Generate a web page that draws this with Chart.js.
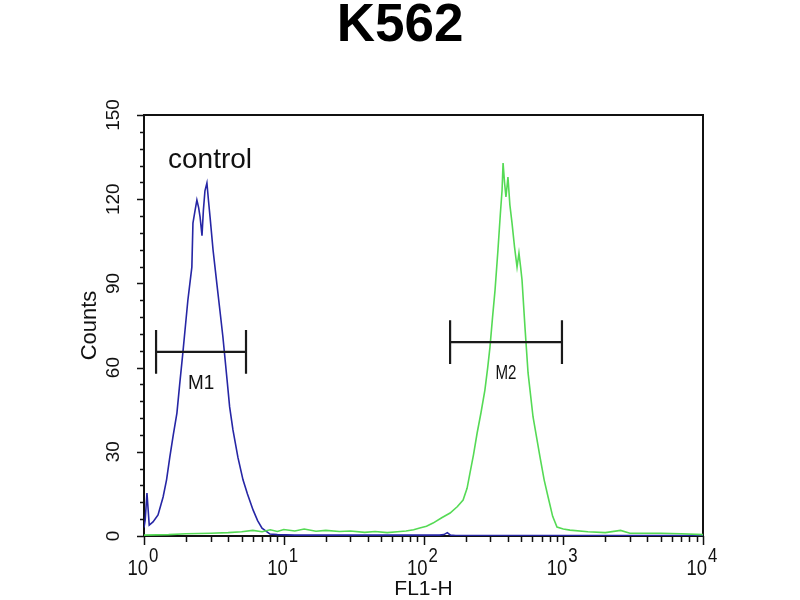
<!DOCTYPE html>
<html>
<head>
<meta charset="utf-8">
<script src="https://cdn.jsdelivr.net/npm/chart.js@4/dist/chart.umd.min.js"></script>
<style>
html,body{margin:0;padding:0;background:#fff;}
#wrap{width:800px;height:600px;}
</style>
</head>
<body>
<div id="wrap"><canvas id="c" width="800" height="600"></canvas></div>
<script>
// ---------- data ----------
const chartTitle = 'K562';
const xAxisTitle = 'FL1-H';
const yAxisTitle = 'Counts';
const xTickDecades = [1, 10, 100, 1000, 10000];
const xTickExponents = ['0', '1', '2', '3', '4'];
const yTickValues = [0, 30, 60, 90, 120, 150];
const yMinorStep = 6;

// control (blue) histogram
const controlX = [1.0, 1.02, 1.05, 1.09, 1.16, 1.26, 1.37, 1.45, 1.53, 1.62, 1.72, 1.80, 1.90, 1.98, 2.06, 2.13, 2.20, 2.24, 2.32, 2.39, 2.46, 2.52, 2.60, 2.66, 2.73, 2.82, 2.90, 2.97, 3.12, 3.33, 3.50, 3.67, 3.93, 4.10, 4.33, 4.70, 5.11, 5.50, 6.03, 6.50, 6.99, 7.97, 9, 12, 20, 40, 80, 130, 140, 148, 156, 170, 300, 1000, 10000];
const controlY = [3, 5.7, 15.3, 3.9, 5, 7.5, 13.9, 20, 28.1, 36, 43.8, 54, 65.6, 75, 84, 90, 95.8, 111.5, 116, 119.7, 117, 113.6, 107, 116, 123, 125.8, 119, 113.6, 101.9, 89.4, 80, 70.9, 55.6, 46, 37.8, 28, 20, 15, 9.3, 5.5, 2.8, 0.7, 0.5, 0.3, 0.3, 0.3, 0.3, 0.3, 0.5, 1.2, 0.3, 0.2, 0.2, 0.2, 0.2];

// stained (green) histogram
const stainedX = [1, 1.5, 2, 3, 4, 5, 6, 7, 8, 9, 10, 12, 14, 17, 20, 25, 30, 38, 45, 55, 65, 75, 85, 94, 105, 117, 135, 155, 175, 192, 205, 215, 228, 242, 258, 275, 288, 299, 312, 325, 341, 355, 365, 371, 380, 389, 395, 402, 415, 430, 448, 467, 482, 495, 507, 532, 560, 608, 682, 730, 779, 840, 902, 1000, 1117, 1500, 2000, 2570, 3000, 5000, 7000, 10000];
const stainedY = [0.3, 0.5, 0.8, 1, 1.2, 1.5, 2, 1.5, 2.2, 1.6, 2.3, 1.8, 2.5, 1.7, 2, 1.6, 1.8, 1.3, 1.6, 1.2, 1.5, 1.8, 2.2, 2.85, 3.5, 4.6, 6.5, 8.2, 10.5, 12.8, 17, 22.4, 29, 36.7, 44, 52, 60, 67.3, 78, 87.6, 101.9, 115, 123.3, 132.9, 126, 120.8, 124, 127.9, 118, 111.5, 103, 95.8, 100.8, 96, 91.2, 74.5, 58.1, 42.4, 28.1, 20, 13.9, 7, 3.2, 2.5, 2.1, 1.5, 1.2, 2, 1, 1, 0.8, 0.5];

// gate markers
const markerNames = ['M1', 'M2'];
const markerLow = [1.22, 155];
const markerHigh = [5.37, 979];
const markerLevel = [65.6, 69.1];
const markerCap = 7.8;

// annotation
const annotationText = 'control';
const annotationX = 2.97;
const annotationY = 134;

// ---------- build ----------
const sans = "'Liberation Sans', Arial, sans-serif";

const toPts = (xs, ys) => xs.map((x, i) => ({x: x, y: ys[i]}));
const markerPts = [];
markerNames.forEach((n, i) => {
  const lo = markerLow[i], hi = markerHigh[i], lv = markerLevel[i];
  markerPts.push(
    {x: lo, y: lv - markerCap}, {x: lo, y: lv + markerCap}, {x: lo, y: null},
    {x: lo, y: lv}, {x: hi, y: lv}, {x: hi, y: null},
    {x: hi, y: lv - markerCap}, {x: hi, y: lv + markerCap}, {x: hi, y: null}
  );
});

function narrowText(ctx, text, x, y, sx) {
  ctx.save();
  ctx.translate(x, y);
  ctx.scale(sx, 1);
  ctx.fillText(text, 0, 0);
  ctx.restore();
}

const decor = {
  id: 'decor',
  beforeDatasetsDraw(chart) {
    const {ctx, chartArea: a, scales: {x, y}} = chart;
    ctx.save();
    ctx.strokeStyle = '#111';
    ctx.lineWidth = 2;
    ctx.strokeRect(a.left, a.top, a.right - a.left, a.bottom - a.top);
    ctx.lineWidth = 1.5;
    ctx.beginPath();
    x.ticks.forEach(t => {
      const px = Math.round(x.getPixelForValue(t.value)) + 0.5;
      const len = xTickDecades.includes(t.value) ? 9 : 6;
      ctx.moveTo(px, a.bottom); ctx.lineTo(px, a.bottom + len);
    });
    y.ticks.forEach(t => {
      const py = Math.round(y.getPixelForValue(t.value)) + 0.5;
      const len = yTickValues.includes(t.value) ? 7 : 4;
      ctx.moveTo(a.left, py); ctx.lineTo(a.left - len, py);
    });
    ctx.stroke();
    ctx.restore();
  },
  afterDatasetsDraw(chart) {
    const {ctx, scales: {x, y}} = chart;
    const a = chart.chartArea;
    ctx.save();
    ctx.fillStyle = '#111';
    ctx.textBaseline = 'alphabetic';
    // x tick labels with exponents
    xTickDecades.forEach((v, i) => {
      const px = x.getPixelForValue(v);
      ctx.font = '22px ' + sans;
      ctx.textAlign = 'right';
      narrowText(ctx, '10', px + 4, a.bottom + 39, 0.84);
      ctx.font = '20px ' + sans;
      ctx.textAlign = 'left';
      narrowText(ctx, xTickExponents[i], px + 5, a.bottom + 26, 0.84);
    });
    // marker labels
    ctx.font = '21px ' + sans;
    ctx.textAlign = 'center';
    ctx.textBaseline = 'middle';
    markerNames.forEach((n, i) => {
      const px = x.getPixelForValue(Math.sqrt(markerLow[i] * markerHigh[i]));
      const py = y.getPixelForValue(markerLevel[i]) + 31;
      narrowText(ctx, n, px, py, i === 0 ? 0.9 : 0.72);
    });
    // control annotation
    ctx.font = '28px ' + sans;
    ctx.fillText(annotationText, x.getPixelForValue(annotationX), y.getPixelForValue(annotationY));
    ctx.restore();
  }
};

new Chart(document.getElementById('c'), {
  type: 'scatter',
  data: {
    datasets: [
      {label: 'markers', data: markerPts, showLine: true, spanGaps: false, borderColor: '#1a1a1a', borderWidth: 2.2, pointRadius: 0, order: 0},
      {label: 'stained', data: toPts(stainedX, stainedY), showLine: true, borderColor: 'rgb(85,218,85)', borderWidth: 1.6, pointRadius: 0, order: 1},
      {label: 'control', data: toPts(controlX, controlY), showLine: true, borderColor: 'rgb(38,38,165)', borderWidth: 1.6, pointRadius: 0, order: 2}
    ]
  },
  options: {
    responsive: false,
    animation: false,
    devicePixelRatio: 1,
    layout: {padding: 0},
    plugins: {
      legend: {display: false},
      tooltip: {enabled: false},
      title: {
        display: true, text: chartTitle, color: '#000',
        font: {family: sans, size: 53, weight: 'bold', lineHeight: 0.92},
        padding: {top: 2, bottom: 64.24}
      }
    },
    scales: {
      x: {
        type: 'logarithmic', min: 1, max: 10000, position: 'bottom',
        afterBuildTicks: s => {
          const t = [];
          for (let d = 0; d < 4; d++) for (let m = 1; m < 10; m++) t.push({value: m * xTickDecades[d]});
          t.push({value: xTickDecades[4]});
          s.ticks = t;
        },
        ticks: {display: false, autoSkip: false},
        grid: {display: false, drawTicks: false},
        border: {display: false},
        title: {display: true, text: xAxisTitle, color: '#111', font: {family: sans, size: 21, lineHeight: 1}, padding: {top: 0, bottom: 0}},
        afterFit: s => { s.height = 64; }
      },
      y: {
        type: 'linear', min: 0, max: 150, position: 'left',
        afterBuildTicks: s => {
          const t = [];
          for (let v = yTickValues[0]; v <= yTickValues[yTickValues.length - 1]; v += yMinorStep) t.push({value: v});
          s.ticks = t;
        },
        ticks: {
          autoSkip: false, minRotation: 90, maxRotation: 90, crossAlign: 'center', padding: 14,
          color: '#111', font: {family: sans, size: 19},
          callback: v => yTickValues.includes(v) ? String(v) : ''
        },
        grid: {display: false, drawTicks: false},
        border: {display: false},
        title: {display: true, text: yAxisTitle, color: '#111', font: {family: sans, size: 22, lineHeight: 1}, padding: {top: 79, bottom: 0}},
        afterFit: s => { s.width = 144; }
      },
      rightMargin: {
        type: 'linear', position: 'right', display: true,
        ticks: {display: false},
        grid: {display: false, drawTicks: false},
        border: {display: false},
        afterFit: s => { s.width = 97; }
      }
    }
  },
  plugins: [decor]
});
</script>
</body>
</html>
